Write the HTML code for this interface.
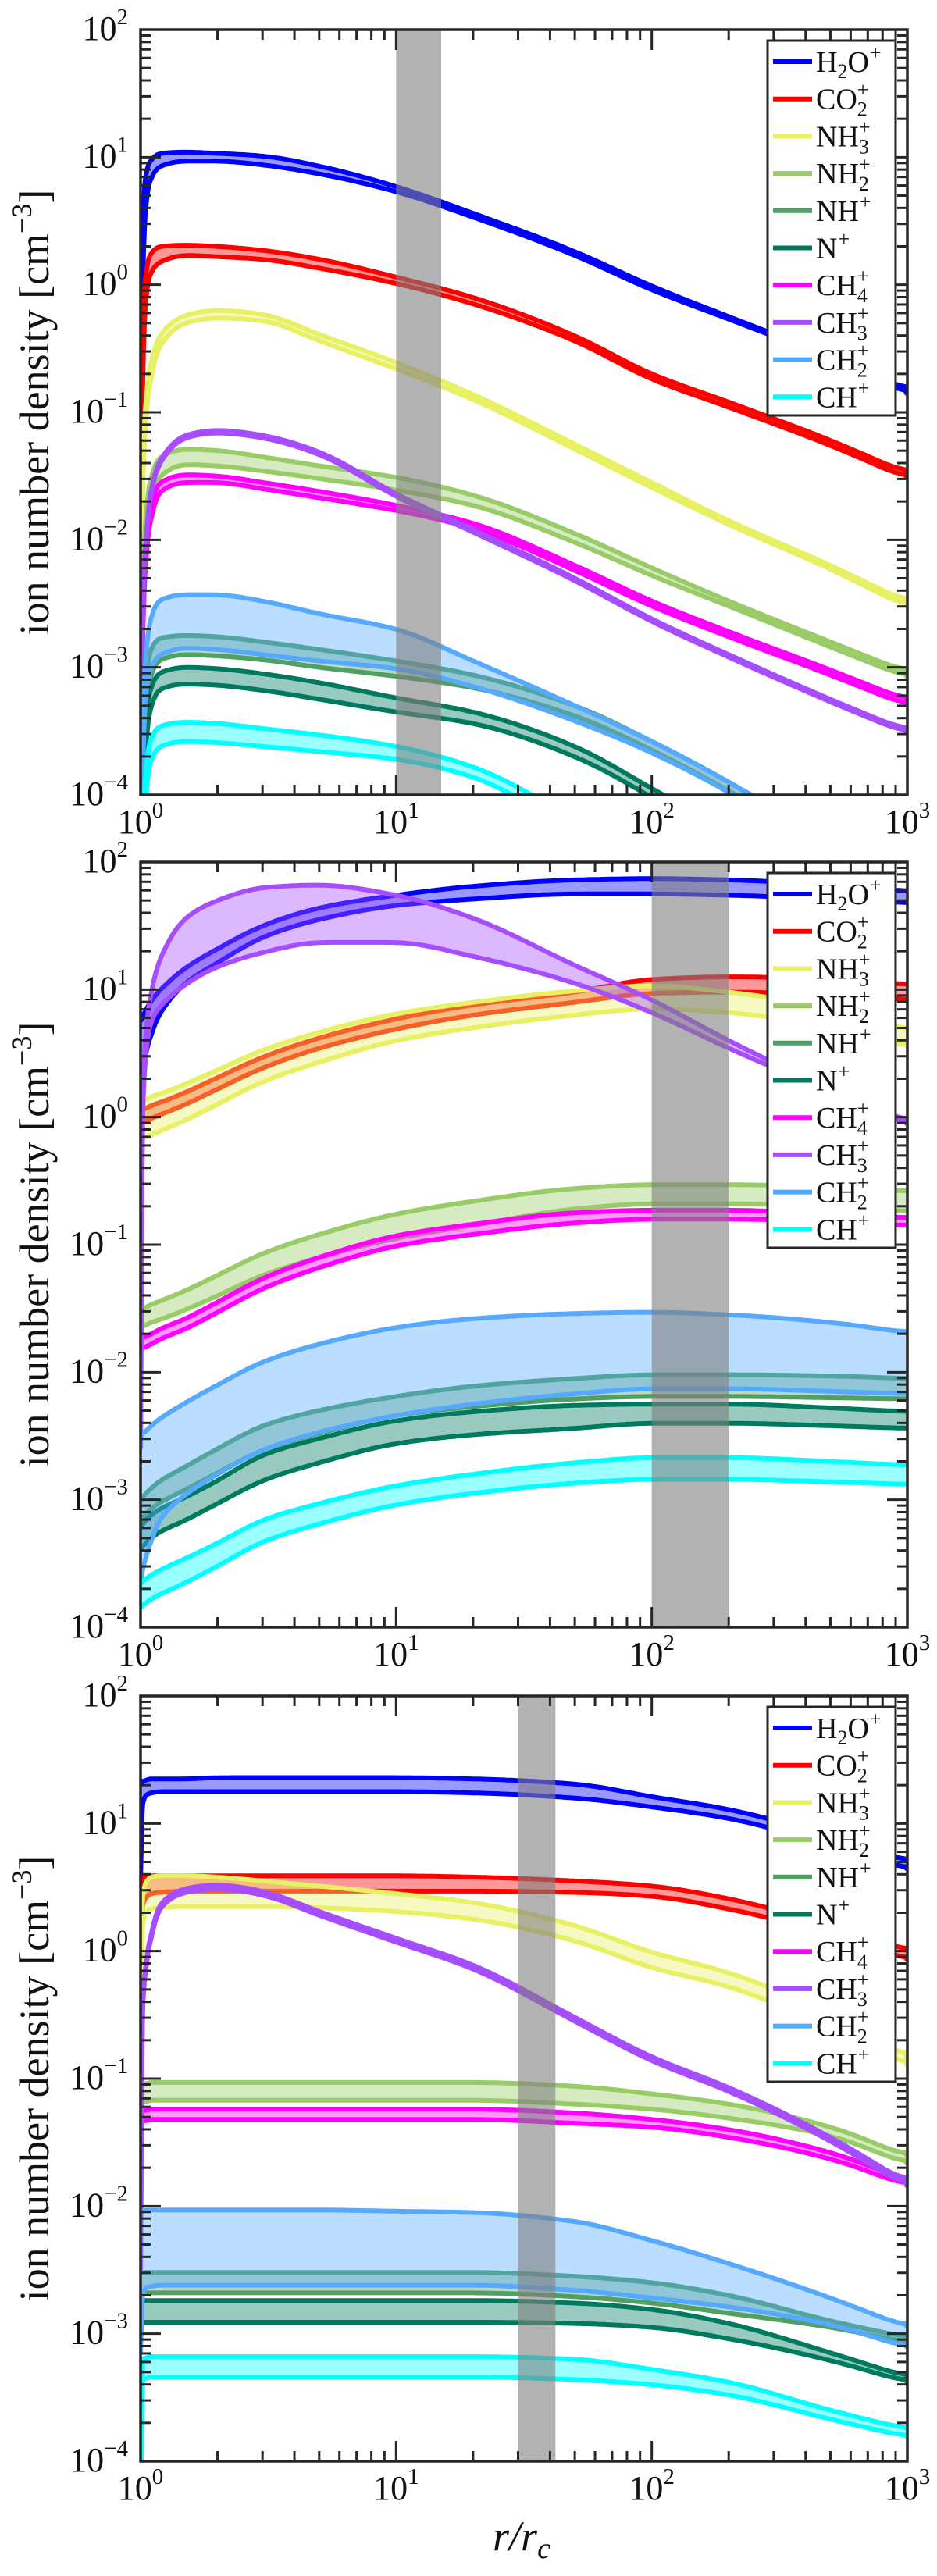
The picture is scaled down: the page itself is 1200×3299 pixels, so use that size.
<!DOCTYPE html>
<html><head><meta charset="utf-8"><title>Ion number density</title>
<style>
html,body{margin:0;padding:0;background:#fff;}
svg{display:block;}
text{font-family:"Liberation Serif","DejaVu Serif",serif;fill:#111;}
</style></head>
<body>
<svg id="fig" width="1200" height="3299" viewBox="0 0 1200 3299" xmlns="http://www.w3.org/2000/svg">
<text x="668" y="3266" font-size="54" font-style="italic" text-anchor="middle">r/r<tspan font-size="38" dy="10">c</tspan></text>
</svg>
<script>
// ---- shared data ----
const R = [1,1.02,1.05,1.1,1.2,1.5,2,3,5,10,20,50,100,200,500,1000];
const speciesNames = ['H2O+','CO2+','NH3+','NH2+','NH+','N+','CH4+','CH3+','CH2+','CH+'];
const speciesColors = ['#0000ff','#ff0000','#e8f064','#99cc66','#4fa062','#007a5e','#ff00ff','#a64dff','#55aaff','#00ffff'];
const yTickExps = [2,1,0,-1,-2,-3,-4];
const xTickExps = [0,1,2,3];
const bandLo = [10,100,30];
const bandHi = [15,200,42];

// ---- panel 1 (log10 values) ----
const P1_H2O_U=[-5,0.46,0.87,0.98,1.03,1.04,1.03,1.01,0.93,0.77,0.56,0.26,-0.01,-0.25,-0.56,-0.83];
const P1_H2O_L=[-5,-0.05,0.63,0.84,0.93,0.97,0.97,0.94,0.87,0.73,0.53,0.23,-0.04,-0.27,-0.58,-0.86];
const P1_CO2_U=[-5,-0.4,0.1,0.25,0.3,0.31,0.3,0.27,0.2,0.06,-0.1,-0.4,-0.7,-0.92,-1.22,-1.48];
const P1_CO2_L=[-5,-0.8,-0.1,0.1,0.18,0.23,0.22,0.2,0.13,0.01,-0.15,-0.44,-0.74,-0.96,-1.26,-1.52];
const P1_NH3_U=[-5,-1.5,-0.9,-0.6,-0.39,-0.24,-0.2,-0.23,-0.39,-0.61,-0.86,-1.25,-1.55,-1.85,-2.2,-2.49];
const P1_NH3_L=[-5,-1.7,-1.05,-0.72,-0.47,-0.3,-0.26,-0.28,-0.44,-0.66,-0.9,-1.29,-1.59,-1.88,-2.23,-2.53];
const P1_NH2_U=[-5,-2.4,-1.8,-1.5,-1.35,-1.29,-1.3,-1.35,-1.42,-1.51,-1.65,-1.95,-2.22,-2.48,-2.8,-3.04];
const P1_NH2_L=[-5,-2.7,-2.0,-1.7,-1.5,-1.41,-1.42,-1.46,-1.52,-1.61,-1.73,-2.02,-2.28,-2.52,-2.84,-3.08];
const P1_NH_U=[-5,-3.6,-3.1,-2.85,-2.77,-2.75,-2.76,-2.8,-2.86,-2.95,-3.06,-3.3,-3.58,-3.9,-4.4,-5];
const P1_NH_L=[-5,-3.9,-3.35,-3.05,-2.94,-2.9,-2.91,-2.94,-3.0,-3.07,-3.16,-3.38,-3.65,-3.97,-4.45,-5];
const P1_N_U=[-5,-3.8,-3.4,-3.15,-3.04,-3.0,-3.01,-3.05,-3.12,-3.24,-3.35,-3.62,-3.95,-4.3,-5,-5];
const P1_N_L=[-5,-4.1,-3.6,-3.3,-3.17,-3.13,-3.14,-3.18,-3.25,-3.35,-3.44,-3.7,-4.02,-4.4,-5,-5];
const P1_CH4_U=[-5,-2.6,-2.0,-1.7,-1.55,-1.49,-1.5,-1.55,-1.62,-1.73,-1.87,-2.2,-2.48,-2.72,-3.02,-3.26];
const P1_CH4_L=[-5,-2.8,-2.15,-1.82,-1.62,-1.55,-1.55,-1.6,-1.67,-1.77,-1.91,-2.24,-2.52,-2.76,-3.06,-3.3];
const P1_CH3_U=[-5,-2.6,-2.0,-1.6,-1.37,-1.18,-1.14,-1.18,-1.31,-1.64,-1.92,-2.3,-2.62,-2.9,-3.25,-3.5];
const P1_CH3_L=[-5,-2.62,-2.02,-1.62,-1.39,-1.2,-1.16,-1.2,-1.33,-1.66,-1.94,-2.32,-2.64,-2.92,-3.27,-3.52];
const P1_CH2_U=[-5,-3.5,-2.9,-2.6,-2.47,-2.43,-2.43,-2.48,-2.58,-2.7,-2.95,-3.3,-3.58,-3.9,-4.4,-5];
const P1_CH2_L=[-5,-3.8,-3.2,-3.0,-2.9,-2.85,-2.86,-2.9,-2.95,-3.01,-3.15,-3.42,-3.67,-3.98,-4.5,-5];
const P1_CH_U=[-5,-4.3,-3.8,-3.55,-3.46,-3.43,-3.44,-3.48,-3.53,-3.62,-3.78,-4.2,-4.6,-5,-5,-5];
const P1_CH_L=[-5,-4.6,-4.0,-3.72,-3.62,-3.58,-3.59,-3.62,-3.66,-3.72,-3.86,-4.3,-4.7,-5,-5,-5];

// ---- panel 2 ----
const P2_H2O_U=[0.75,0.79,0.84,0.91,1.0,1.17,1.32,1.5,1.64,1.74,1.81,1.86,1.87,1.86,1.82,1.77];
const P2_H2O_L=[0.15,0.35,0.5,0.65,0.82,1.05,1.21,1.41,1.55,1.66,1.71,1.75,1.75,1.74,1.71,1.68];
const P2_CO2_U=[0.05,0.06,0.07,0.09,0.117,0.194,0.31,0.47,0.62,0.77,0.88,0.98,1.08,1.1,1.08,1.04];
const P2_CO2_L=[-0.05,-0.04,-0.03,-0.01,0.02,0.1,0.22,0.385,0.54,0.69,0.8,0.9,0.97,0.98,0.96,0.92];
const P2_NH3_U=[0.12,0.13,0.14,0.16,0.185,0.26,0.37,0.525,0.665,0.81,0.9,0.99,1.03,0.98,0.85,0.68];
const P2_NH3_L=[-0.18,-0.17,-0.16,-0.14,-0.107,-0.024,0.1,0.277,0.43,0.6,0.7,0.8,0.85,0.82,0.7,0.55];
const P2_NH2_U=[-1.51,-1.5,-1.49,-1.47,-1.44,-1.36,-1.24,-1.07,-0.92,-0.76,-0.66,-0.56,-0.53,-0.53,-0.55,-0.58];
const P2_NH2_L=[-1.65,-1.64,-1.63,-1.61,-1.585,-1.51,-1.4,-1.24,-1.1,-0.95,-0.85,-0.72,-0.68,-0.68,-0.7,-0.74];
const P2_NH_U=[-3.0,-2.98,-2.95,-2.91,-2.85,-2.74,-2.6,-2.42,-2.3,-2.19,-2.11,-2.05,-2.02,-2.02,-2.03,-2.05];
const P2_NH_L=[-3.16,-3.14,-3.11,-3.07,-3.02,-2.92,-2.79,-2.61,-2.48,-2.34,-2.27,-2.21,-2.19,-2.19,-2.2,-2.21];
const P2_N_U=[-3.21,-3.19,-3.16,-3.12,-3.07,-2.98,-2.85,-2.65,-2.52,-2.38,-2.31,-2.26,-2.25,-2.25,-2.28,-2.31];
const P2_N_L=[-3.39,-3.37,-3.34,-3.3,-3.25,-3.16,-3.03,-2.85,-2.71,-2.56,-2.49,-2.44,-2.4,-2.4,-2.42,-2.44];
const P2_CH4_U=[-1.74,-1.73,-1.72,-1.7,-1.66,-1.58,-1.45,-1.265,-1.1,-0.93,-0.84,-0.75,-0.73,-0.73,-0.76,-0.79];
const P2_CH4_L=[-1.82,-1.81,-1.8,-1.78,-1.74,-1.66,-1.53,-1.345,-1.18,-1.01,-0.92,-0.83,-0.8,-0.8,-0.82,-0.85];
const P2_CH3_U=[-2.6,0.09,0.67,0.98,1.25,1.56,1.7,1.8,1.82,1.74,1.56,1.19,0.92,0.6,0.22,-0.04];
const P2_CH3_L=[-2.6,0.0,0.5,0.75,0.87,1.04,1.18,1.29,1.37,1.37,1.26,1.05,0.82,0.54,0.2,-0.06];
const P2_CH2_U=[-2.5,-2.48,-2.46,-2.42,-2.36,-2.24,-2.1,-1.92,-1.78,-1.65,-1.58,-1.54,-1.53,-1.55,-1.61,-1.69];
const P2_CH2_L=[-3.66,-3.55,-3.45,-3.32,-3.15,-2.96,-2.8,-2.61,-2.47,-2.34,-2.25,-2.17,-2.13,-2.13,-2.15,-2.17];
const P2_CH_U=[-3.66,-3.64,-3.62,-3.59,-3.55,-3.46,-3.34,-3.16,-3.03,-2.89,-2.8,-2.71,-2.67,-2.67,-2.7,-2.73];
const P2_CH_L=[-3.85,-3.83,-3.81,-3.78,-3.74,-3.65,-3.52,-3.33,-3.19,-3.04,-2.95,-2.87,-2.84,-2.84,-2.86,-2.88];

// ---- panel 3 ----
const P3_H2O_U=[1.3,1.33,1.34,1.35,1.35,1.35,1.36,1.36,1.36,1.36,1.35,1.31,1.21,1.11,0.9,0.7];
const P3_H2O_L=[0.57,1.15,1.22,1.24,1.25,1.25,1.25,1.25,1.25,1.25,1.24,1.2,1.13,1.04,0.83,0.64];
const P3_CO2_U=[0.5,0.57,0.58,0.59,0.59,0.59,0.59,0.59,0.59,0.59,0.58,0.55,0.51,0.41,0.2,0.0];
const P3_CO2_L=[-0.06,0.35,0.42,0.45,0.46,0.47,0.47,0.47,0.47,0.47,0.47,0.46,0.43,0.33,0.13,-0.07];
const P3_NH3_U=[-0.6,0.42,0.54,0.58,0.59,0.59,0.58,0.55,0.51,0.45,0.38,0.2,-0.01,-0.17,-0.5,-0.84];
const P3_NH3_L=[-0.8,0.2,0.3,0.33,0.34,0.35,0.35,0.35,0.34,0.31,0.25,0.08,-0.13,-0.28,-0.6,-0.9];
const P3_NH2_U=[-1.05,-1.04,-1.04,-1.03,-1.03,-1.03,-1.03,-1.03,-1.03,-1.03,-1.03,-1.06,-1.12,-1.2,-1.38,-1.61];
const P3_NH2_L=[-1.19,-1.18,-1.18,-1.17,-1.17,-1.17,-1.17,-1.17,-1.17,-1.17,-1.17,-1.2,-1.24,-1.31,-1.45,-1.67];
const P3_NH_U=[-2.53,-2.52,-2.52,-2.52,-2.52,-2.52,-2.52,-2.52,-2.52,-2.52,-2.52,-2.55,-2.6,-2.7,-2.9,-3.03];
const P3_NH_L=[-2.69,-2.68,-2.68,-2.68,-2.68,-2.68,-2.68,-2.68,-2.68,-2.68,-2.68,-2.71,-2.76,-2.84,-2.95,-3.07];
const P3_N_U=[-2.75,-2.74,-2.74,-2.74,-2.74,-2.74,-2.74,-2.74,-2.74,-2.74,-2.74,-2.76,-2.81,-2.92,-3.15,-3.34];
const P3_N_L=[-2.92,-2.91,-2.91,-2.91,-2.91,-2.91,-2.91,-2.91,-2.91,-2.91,-2.91,-2.92,-2.95,-3.04,-3.21,-3.38];
const P3_CH4_U=[-1.26,-1.25,-1.25,-1.24,-1.24,-1.24,-1.24,-1.24,-1.24,-1.24,-1.24,-1.27,-1.32,-1.4,-1.58,-1.8];
const P3_CH4_L=[-1.34,-1.33,-1.33,-1.32,-1.32,-1.32,-1.32,-1.32,-1.32,-1.32,-1.32,-1.35,-1.38,-1.46,-1.63,-1.84];
const P3_CH3_U=[-2.5,-0.44,-0.1,0.14,0.37,0.49,0.52,0.47,0.31,0.1,-0.11,-0.52,-0.83,-1.07,-1.46,-1.82];
const P3_CH3_L=[-2.5,-0.47,-0.13,0.11,0.34,0.46,0.49,0.44,0.28,0.07,-0.14,-0.55,-0.86,-1.1,-1.49,-1.85];
const P3_CH2_U=[-2.05,-2.04,-2.03,-2.03,-2.03,-2.03,-2.03,-2.03,-2.03,-2.04,-2.05,-2.12,-2.27,-2.45,-2.72,-2.95];
const P3_CH2_L=[-3.16,-2.7,-2.64,-2.63,-2.62,-2.62,-2.62,-2.62,-2.62,-2.62,-2.62,-2.66,-2.72,-2.79,-2.93,-3.11];
const P3_CH_U=[-4.5,-3.2,-3.19,-3.18,-3.18,-3.18,-3.18,-3.18,-3.18,-3.18,-3.18,-3.2,-3.28,-3.38,-3.6,-3.75];
const P3_CH_L=[-4.5,-3.37,-3.35,-3.34,-3.34,-3.34,-3.34,-3.34,-3.34,-3.34,-3.34,-3.36,-3.4,-3.48,-3.67,-3.81];

const panelUpper = [
 [P1_H2O_U,P1_CO2_U,P1_NH3_U,P1_NH2_U,P1_NH_U,P1_N_U,P1_CH4_U,P1_CH3_U,P1_CH2_U,P1_CH_U],
 [P2_H2O_U,P2_CO2_U,P2_NH3_U,P2_NH2_U,P2_NH_U,P2_N_U,P2_CH4_U,P2_CH3_U,P2_CH2_U,P2_CH_U],
 [P3_H2O_U,P3_CO2_U,P3_NH3_U,P3_NH2_U,P3_NH_U,P3_N_U,P3_CH4_U,P3_CH3_U,P3_CH2_U,P3_CH_U]];
const panelLower = [
 [P1_H2O_L,P1_CO2_L,P1_NH3_L,P1_NH2_L,P1_NH_L,P1_N_L,P1_CH4_L,P1_CH3_L,P1_CH2_L,P1_CH_L],
 [P2_H2O_L,P2_CO2_L,P2_NH3_L,P2_NH2_L,P2_NH_L,P2_N_L,P2_CH4_L,P2_CH3_L,P2_CH2_L,P2_CH_L],
 [P3_H2O_L,P3_CO2_L,P3_NH3_L,P3_NH2_L,P3_NH_L,P3_N_L,P3_CH4_L,P3_CH3_L,P3_CH2_L,P3_CH_L]];

const legendParts = [
 [['t','H'],['b','2'],['t','O'],['p','+']],
 [['t','CO'],['s','2']],
 [['t','NH'],['s','3']],
 [['t','NH'],['s','2']],
 [['t','NH'],['p','+']],
 [['t','N'],['p','+']],
 [['t','CH'],['s','4']],
 [['t','CH'],['s','3']],
 [['t','CH'],['s','2']],
 [['t','CH'],['p','+']]];

// ---- layout ----
const NS='http://www.w3.org/2000/svg';
const svg=document.getElementById('fig');
const X0=180, X1=1162, PH=980;
const panelTops=[38,1104,2172];
const YMAX=2, YMIN=-4;
function xOf(r){return X0+Math.log10(r)/3*(X1-X0);}
function xOfLog(lx){return X0+lx/3*(X1-X0);}
function yOfLog(top,ly){return top+(YMAX-ly)/(YMAX-YMIN)*PH;}
function mk(tag,attrs,parent){const e=document.createElementNS(NS,tag);for(const k in attrs)e.setAttribute(k,attrs[k]);(parent||svg).appendChild(e);return e;}

// monotone cubic interpolation in (log r, log n), then light pixel smoothing
function curvePts(vals,top){
  const xs=R.map(r=>Math.log10(r)), n=xs.length;
  const d=[],m=new Array(n);
  for(let i=0;i<n-1;i++)d.push((vals[i+1]-vals[i])/(xs[i+1]-xs[i]));
  m[0]=d[0];m[n-1]=d[n-2];
  for(let i=1;i<n-1;i++){ if(d[i-1]*d[i]<=0)m[i]=0; else {const h0=xs[i]-xs[i-1],h1=xs[i+1]-xs[i];const w1=2*h1+h0,w2=h1+2*h0;m[i]=(w1+w2)/(w1/d[i-1]+w2/d[i]);} }
  const pts=[];
  for(let i=0;i<n-1;i++){
    const h=xs[i+1]-xs[i];const steps=Math.max(4,Math.round((xOfLog(xs[i+1])-xOfLog(xs[i]))/3));
    for(let k=0;k<steps;k++){const t=k/steps;const h00=2*t*t*t-3*t*t+1,h10=t*t*t-2*t*t+t,h01=-2*t*t*t+3*t*t,h11=t*t*t-t*t;
      pts.push([xOfLog(xs[i]+t*h), yOfLog(top,h00*vals[i]+h10*h*m[i]+h01*vals[i+1]+h11*h*m[i+1])]);}
  }
  pts.push([xOfLog(xs[n-1]),yOfLog(top,vals[n-1])]);
  const out=[];
  for(let i=0;i<pts.length;i++){
    const x=pts[i][0]; const sg=Math.min(14,0.12*(x-X0));
    if(sg<0.5||i===pts.length-1){out.push(pts[i]);continue;}
    let sw=0,sy=0;
    for(let j=0;j<pts.length;j++){const dx=pts[j][0]-x; if(Math.abs(dx)>3*sg)continue; const w=Math.exp(-dx*dx/(2*sg*sg)); sw+=w; sy+=w*pts[j][1];}
    out.push([x,sy/sw]);
  }
  return out;
}

function expStr(e){return e<0?'−'+(-e):String(e);}

for(let p=0;p<3;p++){
  const top=panelTops[p], bot=top+PH;
  const g=mk('g',{});
  
  
  const defs=mk('defs',{},g);
  const cp=mk('clipPath',{id:'clip'+p},defs);
  mk('rect',{x:X0,y:top,width:X1-X0,height:PH},cp);
  const plot=mk('g',{'clip-path':'url(#clip'+p+')'},g);
  for(let s=0;s<speciesNames.length;s++){
    const up=curvePts(panelUpper[p][s],top);
    const lo=curvePts(panelLower[p][s],top);
    const poly=up.concat(lo.slice().reverse()).map(q=>q[0].toFixed(1)+','+q[1].toFixed(1)).join(' ');
    const f=mk('polygon',{points:poly,fill:speciesColors[s],'fill-opacity':0.4,stroke:'none'},plot);
    
    
    [up,lo].forEach((arr,k)=>{
      const l=mk('polyline',{points:arr.map(q=>q[0].toFixed(1)+','+q[1].toFixed(1)).join(' '),fill:'none',stroke:speciesColors[s],'stroke-width':6,'stroke-linejoin':'round'},plot);
      
      
    });
  }
  const gb=mk('rect',{x:xOf(bandLo[p]),y:top,width:xOf(bandHi[p])-xOf(bandLo[p]),height:PH,fill:'#7f7f7f','fill-opacity':0.6},plot);
  
  
  const tk=mk('g',{stroke:'#262626','stroke-width':3},g);
  
  
  for(let d=0;d<3;d++)for(let k=1;k<=9;k++){
    const lx=d+Math.log10(k); if(lx<=0)continue; const x=xOfLog(lx); const L=k===1?26:13;
    mk('line',{x1:x,y1:bot,x2:x,y2:bot-L},tk); mk('line',{x1:x,y1:top,x2:x,y2:top+L},tk);
  }
  for(let d=-4;d<2;d++)for(let k=1;k<=9;k++){
    const ly=d+Math.log10(k); if(ly<=-4)continue; const y=yOfLog(top,ly); const L=k===1?26:13;
    mk('line',{x1:X0,y1:y,x2:X0+L,y2:y},tk); mk('line',{x1:X1,y1:y,x2:X1-L,y2:y},tk);
  }
  const box=mk('rect',{x:X0,y:top,width:X1-X0,height:PH,fill:'none',stroke:'#262626','stroke-width':3.5},g);
  
  
  yTickExps.forEach(e=>{
    const t=mk('text',{x:164,y:yOfLog(top,e)+13,'font-size':44,'text-anchor':'end'},g);
    
    
    t.appendChild(document.createTextNode('10'));
    const s=mk('tspan',{'font-size':29,dy:-20},t); s.textContent=expStr(e);
  });
  xTickExps.forEach(e=>{
    const t=mk('text',{x:xOfLog(e),y:bot+49,'font-size':44,'text-anchor':'middle'},g);
    
    
    t.appendChild(document.createTextNode('10'));
    const s=mk('tspan',{'font-size':29,dy:-20},t); s.textContent=expStr(e);
  });
  const yc=top+PH/2;
  const yt=mk('text',{x:0,y:0,'font-size':54,'text-anchor':'middle',transform:'translate(62,'+yc+') rotate(-90)'},g);
  
  
  yt.appendChild(document.createTextNode('ion number density [cm'));
  const ys=mk('tspan',{'font-size':36,dy:-22},yt); ys.textContent='−3';
  const ye=mk('tspan',{dy:22},yt); ye.textContent=']';
  const lg=mk('g',{},g);
  
  
  mk('rect',{x:983,y:top+14,width:164,height:480,fill:'#fff',stroke:'#262626','stroke-width':3},lg);
  for(let s=0;s<speciesNames.length;s++){
    const cy=top+41+s*47.7;
    const ent=mk('g',{},lg);
    
    
    mk('line',{x1:990,y1:cy,x2:1040,y2:cy,stroke:speciesColors[s],'stroke-width':6},ent);
    let x=1045; const base=cy+13;
    legendParts[s].forEach(pt=>{
      if(pt[0]==='t'){const t=mk('text',{x:x,y:base,'font-size':38},ent);t.textContent=pt[1];x+=t.getComputedTextLength();}
      else if(pt[0]==='b'){const t=mk('text',{x:x,y:base+8,'font-size':26},ent);t.textContent=pt[1];x+=t.getComputedTextLength();}
      else if(pt[0]==='p'){const t=mk('text',{x:x+1,y:base-16,'font-size':26},ent);t.textContent=pt[1];x+=t.getComputedTextLength();}
      else {const t1=mk('text',{x:x,y:base+9,'font-size':26},ent);t1.textContent=pt[1];
            const t2=mk('text',{x:x,y:base-16,'font-size':26},ent);t2.textContent='+';}
    });
  }
}
</script>
</body></html>
